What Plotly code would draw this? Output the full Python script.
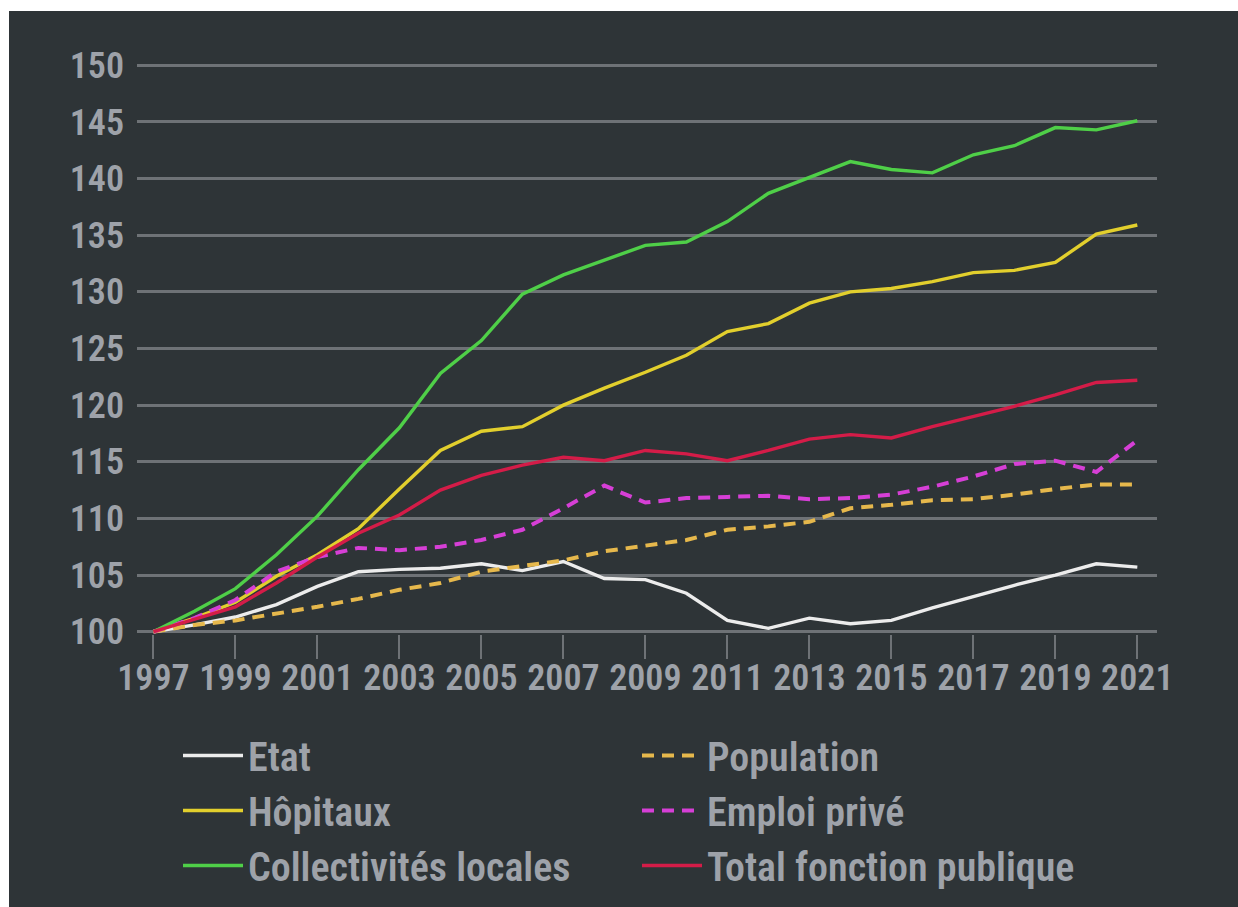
import plotly.graph_objects as go

years = list(range(1997, 2022))

etat = [100, 100.6, 101.3, 102.4, 104.0, 105.3, 105.5, 105.6, 106.0, 105.4, 106.2, 104.7, 104.6,
        103.4, 101.0, 100.3, 101.2, 100.7, 101.0, 102.1, 103.1, 104.1, 105.0, 106.0, 105.7]
population = [100, 100.6, 101.0, 101.6, 102.2, 102.9, 103.7, 104.3, 105.3, 105.8, 106.3, 107.1, 107.6,
              108.1, 109.0, 109.3, 109.7, 110.9, 111.2, 111.6, 111.7, 112.1, 112.6, 113.0, 113.0]
hopitaux = [100, 101.2, 102.6, 104.9, 106.8, 109.1, 112.6, 116.0, 117.7, 118.1, 120.0, 121.5, 122.9,
            124.4, 126.5, 127.2, 129.0, 130.0, 130.3, 130.9, 131.7, 131.9, 132.6, 135.1, 135.9]
emploi_prive = [100, 101.2, 102.8, 105.3, 106.6, 107.4, 107.2, 107.5, 108.1, 109.0, 110.9, 112.9, 111.4,
                111.8, 111.9, 112.0, 111.7, 111.8, 112.1, 112.8, 113.7, 114.8, 115.1, 114.1, 116.9]
collectivites = [100, 101.8, 103.8, 106.8, 110.2, 114.3, 118.0, 122.8, 125.7, 129.8, 131.5, 132.8, 134.1,
                 134.4, 136.2, 138.7, 140.1, 141.5, 140.8, 140.5, 142.1, 142.9, 144.5, 144.3, 145.1]
total_fp = [100, 101.1, 102.2, 104.3, 106.6, 108.7, 110.3, 112.5, 113.8, 114.7, 115.4, 115.1, 116.0,
            115.7, 115.1, 116.0, 117.0, 117.4, 117.1, 118.1, 119.0, 119.9, 120.9, 122.0, 122.2]

series = [
    ("Etat", etat, "#ececec", "solid"),
    ("Population", population, "#e6b84c", "12px,8px"),
    ("Hôpitaux", hopitaux, "#e2cf2d", "solid"),
    ("Emploi privé", emploi_prive, "#d63fd6", "12px,8px"),
    ("Collectivités locales", collectivites, "#4fcf48", "solid"),
    ("Total fonction publique", total_fp, "#d41c48", "solid"),
]

x_ticks = list(range(1997, 2022, 2))
y_ticks = list(range(100, 151, 5))

BG = "#2e3437"
GRID = "#6e7276"
TXT = "#9ea2a9"
FONT = "Liberation Sans Narrow, Roboto Condensed, Arial Narrow, Roboto, sans-serif"

fig = go.Figure()
for name, vals, color, dash in series:
    fig.add_trace(go.Scatter(
        x=years, y=vals, name=name, mode="lines",
        line=dict(color=color, width=4 if dash != "solid" else 3.4, dash=dash),
    ))

W, H = 1238, 907
L, R, T, B = 137, 81, 63, 273
pw = W - L - R
ph = H - T - B

fig.update_layout(
    width=W, height=H,
    margin=dict(l=L, r=R, t=T, b=B, pad=0, autoexpand=False),
    paper_bgcolor="white",
    plot_bgcolor=BG,
    font=dict(family=FONT, color=TXT, size=36, weight=600),
    showlegend=True,
    legend=dict(
        orientation="h",
        x=(183 - 5 - L) / pw, xanchor="left",
        y=(T + ph - 723) / ph, yanchor="top",
        entrywidth=384, entrywidthmode="pixels",
        itemwidth=60,
        font=dict(family=FONT, size=40, color=TXT, weight=600),
        bgcolor="rgba(0,0,0,0)",
        traceorder="normal",
        tracegroupgap=0,
    ),
    shapes=[dict(
        type="rect", xref="paper", yref="paper", layer="below",
        x0=(9 - L) / pw, x1=(W + 20 - L) / pw,
        y0=(T + ph - H - 20) / ph, y1=(T + ph - 11) / ph,
        fillcolor=BG, line=dict(width=0),
    )],
)

fig.update_xaxes(
    range=[1996.6, 2021.48],
    tickvals=x_ticks, ticktext=[str(v) for v in x_ticks],
    showgrid=False, zeroline=False, showline=False,
    ticks="outside", ticklen=24, tickwidth=2, tickcolor=GRID,
    ticklabelstandoff=-12,
    tickfont=dict(family=FONT, size=36, color=TXT, weight=600),
)
fig.update_yaxes(
    range=[99.8, 150.2],
    tickvals=y_ticks, ticktext=[str(v) for v in y_ticks],
    showgrid=True, gridcolor=GRID, gridwidth=3,
    zeroline=False, showline=False, ticks="",
    ticklabelstandoff=12,
    tickfont=dict(family=FONT, size=36, color=TXT, weight=600),
)

fig.write_html("out.html")
